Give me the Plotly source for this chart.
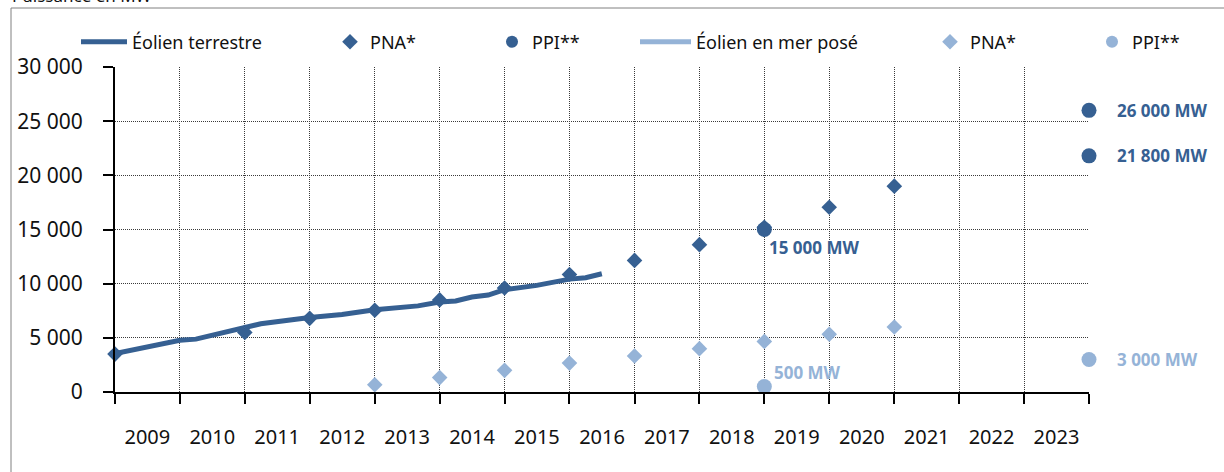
import plotly.graph_objects as go

# ---------------- data ----------------
year_labels = [str(y) for y in range(2009, 2024)]
year_ends = [f"{y}-12-31" for y in range(2008, 2024)]
mid_years = [f"{y}-07-01" for y in range(2009, 2024)]

onshore_dates = ["2008-12-31", "2009-12-31", "2010-03-31", "2010-12-31", "2011-03-31",
                 "2011-12-31", "2012-06-30", "2012-12-31", "2013-08-31", "2013-12-31",
                 "2014-03-31", "2014-06-30", "2014-09-30", "2014-12-31", "2015-06-30",
                 "2015-12-31", "2016-03-31", "2016-06-30"]
onshore_mw = [3560, 4780, 4880, 6000, 6300, 6870, 7150, 7600, 7950, 8300,
              8400, 8770, 8950, 9450, 9840, 10420, 10550, 10920]

pna_on_dates = ["2008-12-31", "2010-12-31", "2011-12-31", "2012-12-31", "2013-12-31",
                "2014-12-31", "2015-12-31", "2016-12-31", "2017-12-31", "2018-12-31",
                "2019-12-31", "2020-12-31"]
pna_on_mw = [3500, 5500, 6800, 7550, 8500, 9600, 10850, 12150, 13600, 15200, 17050, 19000]

ppi_on_dates = ["2018-12-31", "2023-12-31", "2023-12-31"]
ppi_on_mw = [15000, 26000, 21800]

pna_off_dates = ["2012-12-31", "2013-12-31", "2014-12-31", "2015-12-31", "2016-12-31",
                 "2017-12-31", "2018-12-31", "2019-12-31", "2020-12-31"]
pna_off_mw = [670, 1330, 2000, 2670, 3330, 4000, 4670, 5330, 6000]

ppi_off_dates = ["2018-12-31", "2023-12-31"]
ppi_off_mw = [500, 3000]

y_ticks = [0, 5000, 10000, 15000, 20000, 25000, 30000]

# ---------------- style ----------------
DARK = "#366092"
LIGHT = "#95B3D7"
FONT = "Noto Sans"
W, H = 1224, 472
ML, MR, MT, MB = 115, 135, 67, 80
PW, PH = W - ML - MR, H - MT - MB
GRID = "#3a3a3a"


def px_x(p):
    return (p - ML) / PW


def px_y(p):
    return (H - MB - p) / PH


fig = go.Figure()

fig.add_trace(go.Scatter(x=onshore_dates, y=onshore_mw, mode="lines", name="Éolien terrestre",
                         line=dict(color=DARK, width=5), cliponaxis=False, legend="legend"))
fig.add_trace(go.Scatter(x=pna_on_dates, y=pna_on_mw, mode="markers", name="PNA*",
                         marker=dict(symbol="diamond", size=12, color=DARK), cliponaxis=False,
                         legend="legend2"))
fig.add_trace(go.Scatter(x=ppi_on_dates, y=ppi_on_mw, mode="markers", name="PPI**",
                         marker=dict(symbol="circle", size=15, color=DARK), cliponaxis=False,
                         legend="legend3"))
fig.add_trace(go.Scatter(x=[None], y=[None], mode="lines", name="Éolien en mer posé",
                         line=dict(color=LIGHT, width=5), legend="legend4"))
fig.add_trace(go.Scatter(x=pna_off_dates, y=pna_off_mw, mode="markers", name="PNA*",
                         marker=dict(symbol="diamond", size=12, color=LIGHT), cliponaxis=False,
                         legend="legend5"))
fig.add_trace(go.Scatter(x=ppi_off_dates, y=ppi_off_mw, mode="markers", name="PPI**",
                         marker=dict(symbol="circle", size=15, color=LIGHT), cliponaxis=False,
                         legend="legend6"))


def fmt(v):
    return f"{v:,}".replace(",", " ") + " MW"


label_offsets = [  # (xshift, yshift) for each PPI point
    (3, -18), (26, 0), (26, 0)
]
for d, v, (xs, ys) in zip(ppi_on_dates, ppi_on_mw, label_offsets):
    fig.add_annotation(x=d, y=v, text=f"<b>{fmt(v)}</b>", showarrow=False, xanchor="left",
                       yanchor="middle", xshift=xs, yshift=ys,
                       font=dict(family=FONT, size=17, color=DARK))
for d, v, (xs, ys) in zip(ppi_off_dates, ppi_off_mw, [(8, 14), (26, 0)]):
    fig.add_annotation(x=d, y=v, text=f"<b>{fmt(v)}</b>", showarrow=False, xanchor="left",
                       yanchor="middle", xshift=xs, yshift=ys,
                       font=dict(family=FONT, size=17, color=LIGHT))

# y-axis title (cut at the top of the frame, as in the source)
fig.add_annotation(xref="paper", yref="paper", x=px_x(10), y=px_y(9), text="Puissance en MW",
                   showarrow=False, xanchor="left", yanchor="bottom",
                   font=dict(family=FONT, size=17, color="#111"))

# outer frame (top and left edges visible)
fig.add_shape(type="line", xref="paper", yref="paper", x0=px_x(11), x1=px_x(W + 5),
              y0=px_y(8), y1=px_y(8), line=dict(color="#808080", width=1))
fig.add_shape(type="line", xref="paper", yref="paper", x0=px_x(11), x1=px_x(11),
              y0=px_y(8), y1=px_y(H + 5), line=dict(color="#808080", width=1))

leg_common = dict(orientation="h", yanchor="middle", y=px_y(42), xanchor="left",
                  bgcolor="rgba(0,0,0,0)", font=dict(family=FONT, size=18, color="#111"),
                  itemsizing="constant")
fig.update_layout(
    legend=dict(**leg_common, x=px_x(76), itemwidth=46),
    legend2=dict(**leg_common, x=px_x(330)),
    legend3=dict(**leg_common, x=px_x(492)),
    legend4=dict(**leg_common, x=px_x(635), itemwidth=51),
    legend5=dict(**leg_common, x=px_x(930)),
    legend6=dict(**leg_common, x=px_x(1092)),
)

fig.update_layout(
    width=W, height=H,
    margin=dict(l=ML, r=MR, t=MT, b=MB, autoexpand=False),
    paper_bgcolor="white", plot_bgcolor="white",
    separators=", ",
    showlegend=True,
    font=dict(family=FONT, color="#111"),
    xaxis=dict(
        type="date", range=["2008-12-31", "2023-12-31"], automargin=False,
        tickmode="array", tickvals=mid_years, ticktext=year_labels,
        ticks="", showgrid=False, showline=True, linecolor="black", linewidth=2,
        tickfont=dict(family=FONT, size=20, color="#111"), ticklabelstandoff=26,
        zeroline=False,
        minor=dict(tickmode="array", tickvals=year_ends, ticks="outside", ticklen=10,
                   tickwidth=1.5, tickcolor="black", showgrid=True, gridcolor=GRID,
                   gridwidth=1, griddash="1px,1px"),
    ),
    yaxis=dict(
        range=[0, 30000], tickmode="array", tickvals=y_ticks, tickformat=",d",
        automargin=False,
        ticks="outside", ticklen=10, tickwidth=1.5, tickcolor="black",
        showline=True, linecolor="black", linewidth=2,
        showgrid=True, gridcolor=GRID, gridwidth=1, griddash="1px,1px",
        zeroline=False, tickfont=dict(family=FONT, size=21, color="#111"),
        ticklabelstandoff=16,
    ),
)

fig.write_html("out.html", config={"displayModeBar": False},
               post_script="document.body.style.margin='0';document.body.style.overflow='hidden';")
